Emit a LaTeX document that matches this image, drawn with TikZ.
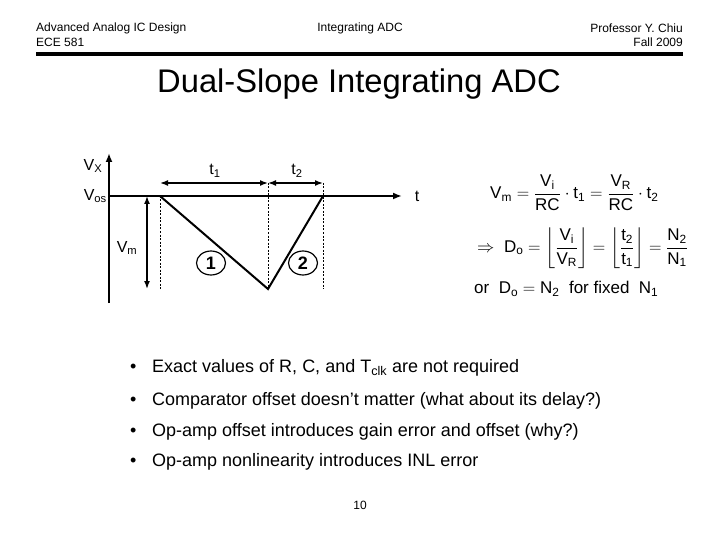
\documentclass[tikz,border=0pt]{standalone}
\usepackage{amsmath,amssymb}
\usepackage{fontspec}
\setmainfont{Liberation Sans}
\usepackage{tikz}
\usetikzlibrary{arrows.meta,calc,positioning,shapes.geometric}
\newcommand{\tx}[1]{\text{#1}}
\tikzset{
  hdr/.style={font=\fontsize{12}{13}\selectfont,inner sep=0pt},
  lbl/.style={font=\fontsize{16}{18}\selectfont,inner sep=0pt},
  eqn/.style={font=\fontsize{17}{19}\selectfont,inner sep=0pt,anchor=west},
  itm/.style={font=\fontsize{18}{20}\selectfont,inner sep=0pt,anchor=west},
  guide/.style={line width=0.6pt,dash pattern=on 2pt off 1.5pt},
  phase/.style={draw,ellipse,line width=1.2pt,minimum width=29pt,minimum height=24pt,inner sep=0pt,font=\bfseries\fontsize{18}{19}\selectfont}
}
\begin{document}
\begin{tikzpicture}[x=1pt,y=-1pt]
\useasboundingbox (0,0) rectangle (720,540);
% header
\node[hdr,anchor=west] (course) at (36,28) {Advanced Analog IC Design};
\node[hdr,anchor=west] (code) at (36,42) {ECE 581};
\node[hdr] (topic) at (360,28) {Integrating ADC};
\node[hdr,anchor=east] (prof) at (683,28) {Professor Y. Chiu};
\node[hdr,anchor=east] (term) at (683,42) {Fall 2009};
\coordinate (rulel) at (36,54);
\coordinate (ruler) at (683,54);
\draw[line width=3.5pt] (rulel)--(ruler);
\node[font=\fontsize{32.7}{36}\selectfont,inner sep=0pt] (title) at (359,84) {Dual-Slope Integrating ADC};
% waveform
\coordinate (O) at (109,196);
\coordinate (ybot) at (109,303);
\coordinate (ytop) at (109,153);
\coordinate (xend) at (402,196);
\coordinate (A) at (160,196);
\coordinate (B) at (268,289);
\coordinate (C) at (323,196);
\draw[line width=2pt,-{Latex[length=9pt,width=7pt]}] (ybot)--(ytop);
\draw[line width=2pt,-{Latex[length=9pt,width=7pt]}] (O)--(xend);
\draw[line width=2pt,line join=miter] (A)--(B)--(C);
\draw[guide] (A)--(A|-B);
\draw[guide] (B|-0,183)--(B);
\draw[guide] (C|-0,183)--(C|-B);
\draw[line width=1.5pt,{Latex[length=8pt,width=6pt]}-{Latex[length=8pt,width=6pt]}] (A|-0,183)--(B|-0,183);
\draw[line width=1.5pt,{Latex[length=8pt,width=6pt]}-{Latex[length=8pt,width=6pt]}] (B|-0,183)--(C|-0,183);
\draw[line width=1.5pt,{Latex[length=8pt,width=6pt]}-{Latex[length=8pt,width=6pt]}] (147,196)--(147,289);
\node[lbl] (vx) at (93,166) {V\textsubscript{X}};
\node[lbl,anchor=east] (vos) at (107,196) {V\textsubscript{os}};
\node[lbl] (vm) at (127,248) {V\textsubscript{m}};
\node[lbl] (tax) at (417,196) {t};
\node[lbl] (t1) at (215,171) {t\textsubscript{1}};
\node[lbl] (t2) at (297,171) {t\textsubscript{2}};
\node[phase] (ph1) at (211,263) {1};
\node[phase] (ph2) at (303,263) {2};
% equations
\node[eqn] (eq1) at (490,193) {$\tx{V}_{\tx{m}} = \dfrac{\tx{V}_{\tx{i}}}{\tx{RC}}\cdot \tx{t}_{\tx{1}} = \dfrac{\tx{V}_{\tx{R}}}{\tx{RC}}\cdot \tx{t}_{\tx{2}}$};
\node[eqn] (eq2) at (477,248) {$\Rightarrow\ \tx{D}_{\tx{o}} = \left\lfloor \dfrac{\tx{V}_{\tx{i}}}{\tx{V}_{\tx{R}}} \right\rfloor = \left\lfloor \dfrac{\tx{t}_{\tx{2}}}{\tx{t}_{\tx{1}}} \right\rfloor = \dfrac{\tx{N}_{\tx{2}}}{\tx{N}_{\tx{1}}}$};
\node[eqn] (eq3) at (474,289) {or\ \ $\tx{D}_{\tx{o}} = \tx{N}_{\tx{2}}$\ \ for fixed\ \ $\tx{N}_{\tx{1}}$};
% bullet list
\foreach \y/\txt [count=\i] in {368/{Exact values of R, C, and T\textsubscript{clk} are not required},
  401/{Comparator offset doesn’t matter (what about its delay?)},
  432/{Op-amp offset introduces gain error and offset (why?)},
  462/{Op-amp nonlinearity introduces INL error}}{
  \node[itm] (dot\i) at (130,\y) {\textbullet};
  \node[itm] (item\i) at (152,\y) {\txt};
}
\node[hdr] (page) at (360,505) {10};
\end{tikzpicture}
\end{document}
